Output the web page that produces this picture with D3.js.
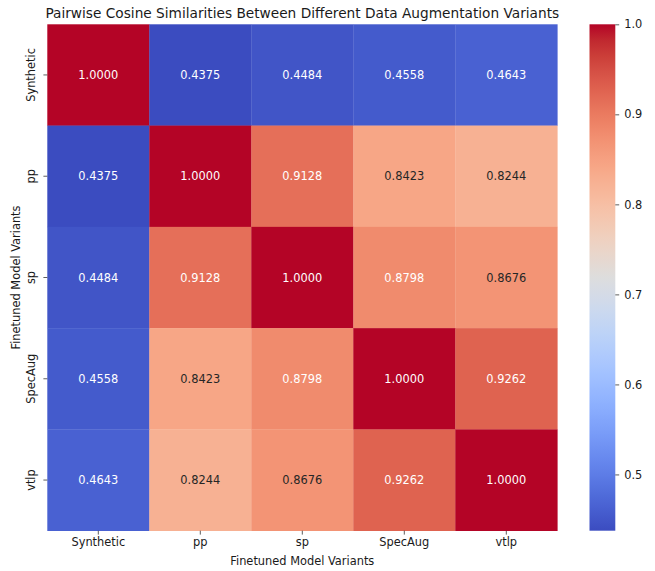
<!DOCTYPE html>
<html>
<head>
<meta charset="utf-8">
<script src="https://cdn.jsdelivr.net/npm/d3@7"></script>
<style>
  html, body { margin: 0; padding: 0; background: #ffffff; }
  svg { display: block; font-family: "DejaVu Sans", sans-serif; }
</style>
</head>
<body>
<svg id="chart" width="655" height="571"></svg>
<script>
// ---- data ----
const categories = ["Synthetic", "pp", "sp", "SpecAug", "vtlp"];
const rowSynthetic = [1.0000, 0.4375, 0.4484, 0.4558, 0.4643];
const rowPP        = [0.4375, 1.0000, 0.9128, 0.8423, 0.8244];
const rowSP        = [0.4484, 0.9128, 1.0000, 0.8798, 0.8676];
const rowSpecAug   = [0.4558, 0.8423, 0.8798, 1.0000, 0.9262];
const rowVtlp      = [0.4643, 0.8244, 0.8676, 0.9262, 1.0000];
const matrix = [rowSynthetic, rowPP, rowSP, rowSpecAug, rowVtlp];
const colorbarTicks = [0.5, 0.6, 0.7, 0.8, 0.9, 1.0];
const titleText = "Pairwise Cosine Similarities Between Different Data Augmentation Variants";
const xLabelText = "Finetuned Model Variants";
const yLabelText = "Finetuned Model Variants";

// coolwarm (Moreland) control points
const coolwarm = [
  [59,76,192],[68,90,204],[77,104,215],[87,117,225],[98,130,234],[108,142,241],
  [119,154,247],[130,165,251],[141,176,254],[152,185,255],[163,194,255],[174,201,253],
  [184,208,249],[194,213,244],[204,217,238],[213,219,230],[221,221,221],[229,216,209],
  [236,211,197],[241,204,184],[245,196,172],[247,187,159],[247,177,147],[247,166,134],
  [244,154,123],[241,141,111],[236,127,99],[229,112,89],[222,96,78],[213,80,69],
  [203,62,56],[192,40,47],[180,4,38]
];

// ---- layout ----
const svg = d3.select("#chart");
const mLeft = 47.3, mTop = 24.3, W = 510, H = 506.4;
const cbX = 589.5, cbW = 25.8;
const tickLen = 3.9;
const textColor = "#1a1a1a";
const fs = "11.4px";

const flat = matrix.flat();
const vmin = d3.min(flat), vmax = d3.max(flat);

const cmStops = coolwarm.map((_, i) => i / (coolwarm.length - 1));
const cmap = d3.scaleLinear()
  .domain(cmStops)
  .range(coolwarm.map(c => d3.rgb(c[0], c[1], c[2])))
  .interpolate(d3.interpolateRgb)
  .clamp(true);
const norm = d3.scaleLinear().domain([vmin, vmax]).range([0, 1]).clamp(true);
const color = v => cmap(norm(v));

const x = d3.scaleBand().domain(categories).range([mLeft, mLeft + W]).padding(0);
const y = d3.scaleBand().domain(categories).range([mTop, mTop + H]).padding(0);

function lum(c) {
  const rgb = d3.rgb(c);
  const f = v => { v /= 255; return v <= 0.03928 ? v / 12.92 : Math.pow((v + 0.055) / 1.055, 2.4); };
  return 0.2126 * f(rgb.r) + 0.7152 * f(rgb.g) + 0.0722 * f(rgb.b);
}

const cells = [];
matrix.forEach((row, i) => row.forEach((v, j) => cells.push({ r: categories[i], c: categories[j], v })));

const g = svg.append("g");
g.selectAll("rect.cell").data(cells).enter().append("rect")
  .attr("class", "cell")
  .attr("x", d => x(d.c))
  .attr("y", d => y(d.r))
  .attr("width", x.bandwidth() + 0.3)
  .attr("height", y.bandwidth() + 0.3)
  .attr("fill", d => color(d.v));

g.selectAll("text.annot").data(cells).enter().append("text")
  .attr("class", "annot")
  .attr("x", d => x(d.c) + x.bandwidth() / 2)
  .attr("y", d => y(d.r) + y.bandwidth() / 2)
  .attr("text-anchor", "middle")
  .attr("dominant-baseline", "central")
  .attr("font-size", fs)
  .attr("fill", d => lum(color(d.v)) > 0.408 ? "#262626" : "#ffffff")
  .text(d => d.v.toFixed(4));

// x axis
const xAxis = svg.append("g")
  .attr("transform", `translate(0,${mTop + H})`)
  .call(d3.axisBottom(x).tickSize(tickLen).tickPadding(3.3));
xAxis.select(".domain").remove();
xAxis.selectAll(".tick line").attr("stroke", "#333").attr("stroke-width", 0.8);
xAxis.selectAll(".tick text").attr("font-size", fs).attr("fill", textColor)
  .attr("font-family", "DejaVu Sans, sans-serif");

// y axis with rotated labels
const yAxis = svg.append("g")
  .attr("transform", `translate(${mLeft},0)`)
  .call(d3.axisLeft(y).tickSize(tickLen));
yAxis.select(".domain").remove();
yAxis.selectAll(".tick line").attr("stroke", "#333").attr("stroke-width", 0.8);
yAxis.selectAll(".tick text")
  .attr("font-size", fs).attr("fill", textColor)
  .attr("font-family", "DejaVu Sans, sans-serif")
  .attr("x", null).attr("dy", null)
  .attr("text-anchor", "middle")
  .attr("transform", `translate(${35.2 - mLeft},0) rotate(-90)`);

// axis labels
svg.append("text")
  .attr("x", mLeft + W / 2).attr("y", 564.5)
  .attr("text-anchor", "middle").attr("font-size", fs).attr("fill", textColor)
  .text(xLabelText);
svg.append("text")
  .attr("transform", `translate(19.5,${mTop + H / 2}) rotate(-90)`)
  .attr("text-anchor", "middle").attr("font-size", fs).attr("fill", textColor)
  .text(yLabelText);

// title
svg.append("text")
  .attr("x", mLeft + W / 2).attr("y", 18)
  .attr("text-anchor", "middle").attr("font-size", "13.7px").attr("fill", textColor)
  .text(titleText);

// colorbar
const defs = svg.append("defs");
const grad = defs.append("linearGradient").attr("id", "cbgrad")
  .attr("x1", 0).attr("y1", 1).attr("x2", 0).attr("y2", 0);
d3.range(0, 65).forEach(k => {
  const t = k / 64;
  grad.append("stop").attr("offset", t).attr("stop-color", cmap(t));
});
svg.append("rect")
  .attr("x", cbX).attr("y", mTop).attr("width", cbW).attr("height", H)
  .attr("fill", "url(#cbgrad)");

const cbScale = d3.scaleLinear().domain([vmin, vmax]).range([mTop + H, mTop]);
const cbAxis = svg.append("g")
  .attr("transform", `translate(${cbX + cbW},0)`)
  .call(d3.axisRight(cbScale).tickValues(colorbarTicks).tickFormat(d3.format(".1f")).tickSize(tickLen).tickPadding(5));
cbAxis.select(".domain").remove();
cbAxis.selectAll(".tick line").attr("stroke", "#333").attr("stroke-width", 0.8);
cbAxis.selectAll(".tick text").attr("font-size", fs).attr("fill", textColor)
  .attr("font-family", "DejaVu Sans, sans-serif");
</script>
</body>
</html>
